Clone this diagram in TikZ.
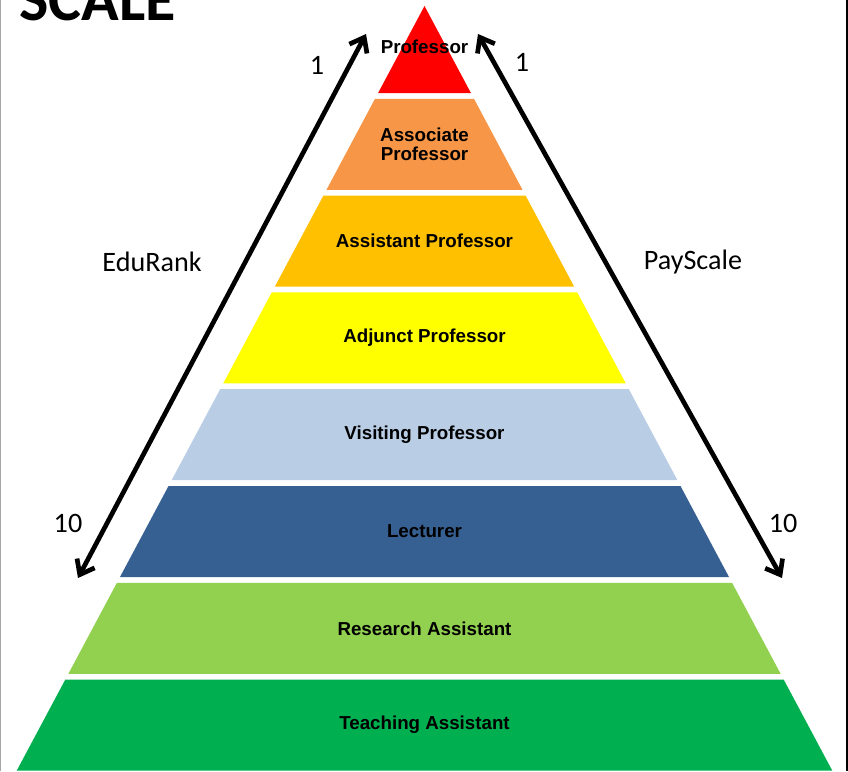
\documentclass[tikz,border=0pt]{standalone}
\usepackage{fontspec}
\setmainfont{Liberation Sans}
\newfontfamily\calibri{Carlito}
\usetikzlibrary{arrows.meta}

\definecolor{bandred}{HTML}{FF0000}
\definecolor{bandorange}{HTML}{F79646}
\definecolor{bandamber}{HTML}{FFC000}
\definecolor{bandyellow}{HTML}{FFFF00}
\definecolor{bandsky}{HTML}{B9CDE5}
\definecolor{bandnavy}{HTML}{376092}
\definecolor{bandlime}{HTML}{92D050}
\definecolor{bandgreen}{HTML}{00B050}

\begin{document}
\begin{tikzpicture}[x=0.03cm,y=-0.03cm,
	band text/.style={font=\fontsize{16}{16.5}\selectfont\bfseries,align=center},
	side label/.style={font=\calibri\fontsize{24}{26}\selectfont},
	rank arrow/.style={{Straight Barb[length=11pt,width=17pt]}-{Straight Barb[length=11pt,width=17pt]},
		line width=4pt}]
	
	\useasboundingbox (0,0) rectangle (848,771);
	\clip (0,0) rectangle (848,771);
	
	% pyramid bands
	\foreach \col/\name/\txt [count=\k from 0] in {
		bandred/prof/Professor,
		bandorange/assoc/{Associate\\Professor},
		bandamber/assist/Assistant Professor,
		bandyellow/adjunct/Adjunct Professor,
		bandsky/visit/Visiting Professor,
		bandnavy/lect/Lecturer,
		bandlime/research/Research Assistant,
		bandgreen/teach/Teaching Assistant}{
		\pgfmathsetmacro\ybot{93+96.8*\k}
		\pgfmathsetmacro\ytop{\k==0 ? 6 : \ybot-91}
		\pgfmathsetmacro\wt{(\ytop-6)*0.5333}
		\pgfmathsetmacro\wb{(\ybot-6)*0.5333}
		\pgfmathsetmacro\ymid{\k==0 ? 47 : (\ytop+\ybot)/2}
		\fill[\col] ({424.5-\wt},\ytop) -- ({424.5+\wt},\ytop)
			-- ({424.5+\wb},\ybot) -- ({424.5-\wb},\ybot) -- cycle;
		\node[band text] (\name) at (424.5,\ymid) {\txt};
	}
	
	\node[font=\calibri\bfseries\fontsize{53}{55}\selectfont,anchor=base west,inner sep=0pt]
		(title) at (19,20) {SCALE};
	
	\coordinate (edu top) at (366,34);
	\coordinate (edu bot) at (78,578);
	\coordinate (pay top) at (478,34);
	\coordinate (pay bot) at (782,578);
	
	\draw[rank arrow] (edu bot) -- (edu top);
	\draw[rank arrow] (pay bot) -- (pay top);
	
	\node[side label] (edu) at (152,262) {EduRank};
	\node[side label] (pay) at (693,262) {PayScale};
	\node[side label] (edu one) at (317,65) {1};
	\node[side label] (pay one) at (522,62) {1};
	\node[side label] (edu ten) at (68,523) {10};
	\node[side label] (pay ten) at (783,523) {10};
	
	% frame edges
	\draw[gray!70,line width=0.9pt] (0.5,0) -- (0.5,771);
	\draw[line width=0.9pt] (847,0) -- (847,771);
\end{tikzpicture}
\end{document}
